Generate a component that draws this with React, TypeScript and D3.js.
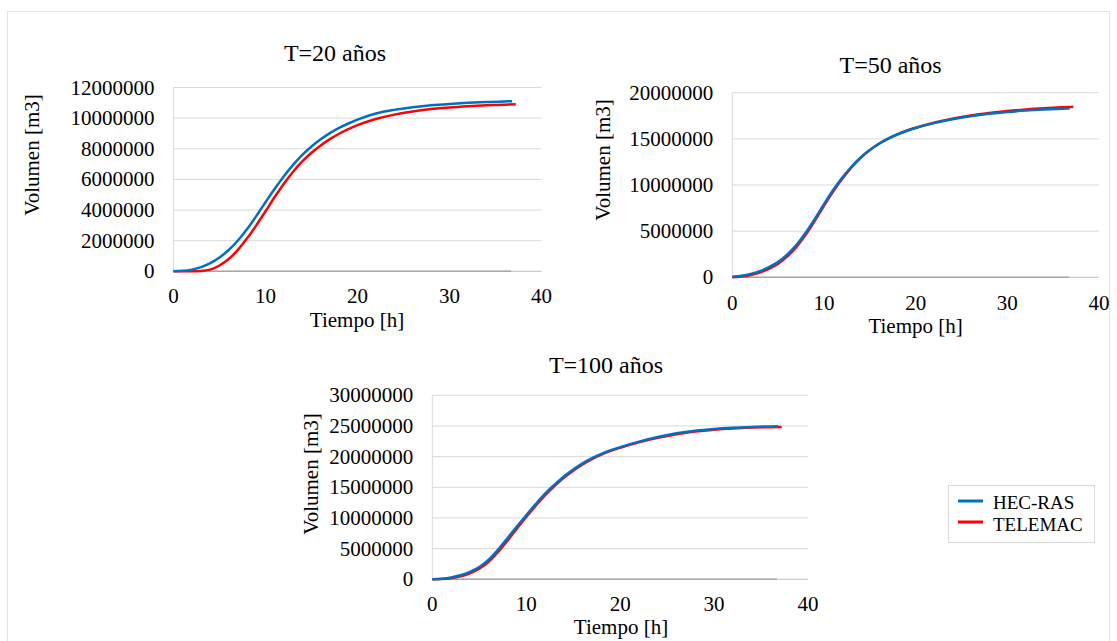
import React from "react";
import * as d3 from "d3";

// ---------- DATA ----------
const HOURS_HEC = [0,1,2,3,4,5,6,7,8,9,10,11,12,13,14,15,16,17,18,19,20,22,24,26,28,30,32,34,36,36.8];
const HOURS_TEL = [0,1,2,3,4,5,6,7,8,9,10,11,12,13,14,15,16,17,18,19,20,22,24,26,28,30,32,34,36,37.2];
const ZERO_HOURS = [0, 36.7];
const X_TICKS = [0, 10, 20, 30, 40];

// volumes in millions of m3
const T20_HEC = [0,0.03,0.11,0.27,0.53,0.9,1.39,2.01,2.76,3.61,4.51,5.39,6.21,6.95,7.6,8.15,8.62,9.02,9.36,9.65,9.9,10.3,10.54,10.71,10.84,10.93,11.0,11.05,11.09,11.1];
const T20_TEL = [0,0,0,0.02,0.11,0.38,0.8,1.4,2.15,3.0,3.92,4.85,5.72,6.5,7.17,7.74,8.22,8.63,8.98,9.28,9.54,9.94,10.23,10.44,10.59,10.7,10.78,10.84,10.88,10.9];
const T50_HEC = [0.05,0.17,0.37,0.67,1.09,1.67,2.47,3.52,4.82,6.32,7.92,9.45,10.8,11.98,12.98,13.8,14.47,15.02,15.47,15.85,16.17,16.7,17.12,17.45,17.71,17.91,18.06,18.17,18.26,18.29];
const T50_TEL = [0,0.08,0.25,0.52,0.92,1.48,2.27,3.3,4.6,6.12,7.75,9.3,10.68,11.9,12.93,13.78,14.47,15.03,15.49,15.88,16.21,16.75,17.18,17.53,17.8,18.02,18.19,18.32,18.42,18.47];
const T100_HEC = [0,0.1,0.3,0.65,1.2,2.0,3.2,4.85,6.7,8.6,10.45,12.25,13.95,15.4,16.75,17.9,18.9,19.75,20.45,21.05,21.55,22.45,23.2,23.8,24.23,24.52,24.72,24.85,24.93,24.95];
const T100_TEL = [0,0.04,0.18,0.48,0.98,1.72,2.85,4.45,6.3,8.25,10.15,11.98,13.7,15.18,16.55,17.72,18.73,19.6,20.32,20.93,21.44,22.32,23.06,23.66,24.1,24.4,24.6,24.73,24.81,24.85];

const T20_Y_TICKS = [0, 2000000, 4000000, 6000000, 8000000, 10000000, 12000000];
const T50_Y_TICKS = [0, 5000000, 10000000, 15000000, 20000000];
const T100_Y_TICKS = [0, 5000000, 10000000, 15000000, 20000000, 25000000, 30000000];

const SERIES_NAMES = ["HEC-RAS", "TELEMAC"];
const TITLES = ["T=20 años", "T=50 años", "T=100 años"];
const X_LABEL = "Tiempo [h]";
const Y_LABEL = "Volumen [m3]";

// ---------- STYLE / LAYOUT ----------
const BLUE = "#0070c0";
const RED = "#ff0000";
const GRID = "#d9d9d9";
const FONT = "'Liberation Serif', 'Times New Roman', serif";

const panels = [
  { title: TITLES[0], hec: T20_HEC, tel: T20_TEL, yTicks: T20_Y_TICKS,
    x0: 173.5, x1: 541.5, y0: 271.3, y1: 87.5,
    titleX: 335, titleY: 61, xlX: 357, xlY: 326.5, ylX: 39, ylY: 155, xtY: 303 },
  { title: TITLES[1], hec: T50_HEC, tel: T50_TEL, yTicks: T50_Y_TICKS,
    x0: 732.3, x1: 1099, y0: 277.3, y1: 92.7,
    titleX: 890.6, titleY: 73, xlX: 915.6, xlY: 332.5, ylX: 610, ylY: 160, xtY: 310 },
  { title: TITLES[2], hec: T100_HEC, tel: T100_TEL, yTicks: T100_Y_TICKS,
    x0: 432.3, x1: 808, y0: 579.3, y1: 395.3,
    titleX: 606, titleY: 373, xlX: 621, xlY: 634, ylX: 318, ylY: 474, xtY: 611 },
];

type P = typeof panels[number];

function Panel({ p }: { p: P }) {
  const yMax = p.yTicks[p.yTicks.length - 1];
  const x = d3.scaleLinear().domain([0, 40]).range([p.x0, p.x1]);
  const y = d3.scaleLinear().domain([0, yMax]).range([p.y0, p.y1]);
  const line = d3
    .line<[number, number]>()
    .x((d) => x(d[0]))
    .y((d) => y(d[1]))
    .curve(d3.curveMonotoneX);
  const hecPts = HOURS_HEC.map((t, i) => [t, p.hec[i] * 1e6] as [number, number]);
  const telPts = HOURS_TEL.map((t, i) => [t, p.tel[i] * 1e6] as [number, number]);
  const zeroPts = ZERO_HOURS.map((t) => [t, 0] as [number, number]);
  return (
    <g>
      {p.yTicks.map((v) => (
        <line key={"g" + v} x1={x(0)} x2={x(40)} y1={y(v)} y2={y(v)} stroke={v === 0 ? "#bfbfbf" : GRID} strokeWidth={1} />
      ))}
      <line x1={x(0)} x2={x(0)} y1={y(0)} y2={y(yMax)} stroke={GRID} strokeWidth={1} />
      {p.yTicks.map((v) => (
        <text key={"yt" + v} x={x(0) - 19} y={y(v) + 7} textAnchor="end" fontSize={21} fontFamily={FONT} fill="#000">
          {String(v)}
        </text>
      ))}
      {X_TICKS.map((t) => (
        <text key={"xt" + t} x={x(t)} y={p.xtY} textAnchor="middle" fontSize={21} fontFamily={FONT} fill="#000">
          {t}
        </text>
      ))}
      <path d={line(zeroPts) || ""} fill="none" stroke="#a6a6a6" strokeWidth={1.5} />
      <path d={line(telPts) || ""} fill="none" stroke={RED} strokeWidth={2.5} strokeLinejoin="round" />
      <path d={line(hecPts) || ""} fill="none" stroke={BLUE} strokeWidth={2.5} strokeLinejoin="round" />
      <text x={p.titleX} y={p.titleY} textAnchor="middle" fontSize={24} fontFamily={FONT} fill="#000">{p.title}</text>
      <text x={p.xlX} y={p.xlY} textAnchor="middle" fontSize={21} fontFamily={FONT} fill="#000">{X_LABEL}</text>
      <text transform={`translate(${p.ylX},${p.ylY}) rotate(-90)`} textAnchor="middle" fontSize={21} fontFamily={FONT} fill="#000">{Y_LABEL}</text>
    </g>
  );
}

export default function App() {
  return (
    <svg width={1117} height={641} style={{ position: "absolute", left: 0, top: 0, background: "#fff" }}>
      <rect x={0} y={0} width={1117} height={641} fill="#fff" />
      <rect x={7.5} y={11.5} width={1102} height={640} fill="none" stroke="#e3e3e3" strokeWidth={1} />
      {panels.map((p) => (
        <Panel key={p.title} p={p} />
      ))}
      <g>
        <rect x={948.5} y={485.5} width={146} height={57} fill="#fff" stroke={GRID} strokeWidth={1} />
        <line x1={958} x2={983} y1={501} y2={501} stroke={BLUE} strokeWidth={3} />
        <line x1={958} x2={983} y1={522} y2={522} stroke={RED} strokeWidth={3} />
        <text x={993} y={509} fontSize={19} fontFamily={FONT} fill="#000">{SERIES_NAMES[0]}</text>
        <text x={993} y={531} fontSize={19} fontFamily={FONT} fill="#000">{SERIES_NAMES[1]}</text>
      </g>
    </svg>
  );
}
